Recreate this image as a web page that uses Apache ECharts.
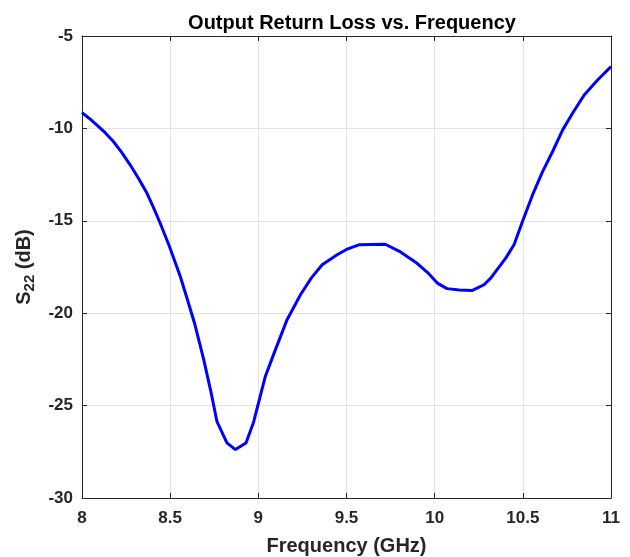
<!DOCTYPE html>
<html><head><meta charset="utf-8">
<script src="https://cdn.jsdelivr.net/npm/echarts@6/dist/echarts.min.js"></script>
<style>html,body{margin:0;padding:0;background:#fff}#c{width:630px;height:557px}</style>
</head><body><div id="c"></div>
<script>
const freq = [8.00,8.04,8.083,8.13,8.178,8.225,8.273,8.32,8.368,8.405,8.443,8.496,8.557,8.595,8.64,8.69,8.73,8.765,8.822,8.87,8.93,8.973,9.04,9.097,9.163,9.239,9.30,9.362,9.447,9.50,9.57,9.72,9.80,9.90,9.96,10.015,10.07,10.14,10.214,10.28,10.318,10.403,10.45,10.498,10.555,10.612,10.669,10.726,10.782,10.848,10.924,11.00];
const s22 = [-9.15,-9.45,-9.81,-10.22,-10.71,-11.3,-11.97,-12.7,-13.5,-14.27,-15.12,-16.39,-18.0,-19.18,-20.6,-22.5,-24.2,-25.85,-27.02,-27.38,-27.02,-25.9,-23.41,-21.97,-20.35,-19.0,-18.1,-17.38,-16.84,-16.55,-16.3,-16.27,-16.65,-17.3,-17.8,-18.37,-18.67,-18.75,-18.77,-18.46,-18.1,-17.02,-16.3,-15.04,-13.6,-12.34,-11.25,-10.08,-9.18,-8.19,-7.38,-6.66];
const xTicks = [8, 8.5, 9, 9.5, 10, 10.5, 11];
const yTicks = [-30, -25, -20, -15, -10, -5];
const title = 'Output Return Loss vs. Frequency';
const xName = 'Frequency (GHz)';

const FONT = '"Liberation Sans", Arial, sans-serif';
const axisCol = '#262626';
const chart = echarts.init(document.getElementById('c'));
const baseAxis = (extra) => Object.assign({
  axisLine: {show: true, lineStyle: {color: axisCol, width: 1}},
  axisTick: {show: true, inside: true, length: 5, lineStyle: {color: axisCol}},
  splitLine: {show: false},
  axisLabel: {show: false}
}, extra);
chart.setOption({
  animation: false,
  title: {text: title, left: 347, top: 8, textAlign: 'center',
    textStyle: {fontFamily: FONT, fontSize: 20, fontWeight: 'bold', color: '#000'}},
  grid: {left: 82, right: 19, top: 36, bottom: 59, outerBoundsMode: 'none', containLabel: false},
  xAxis: [
    {type: 'value', min: xTicks[0], max: xTicks[xTicks.length-1], interval: 0.5,
     position: 'bottom',
     axisLine: {show: true, onZero: false, lineStyle: {color: axisCol}},
     axisTick: {show: true, inside: true, length: 5, lineStyle: {color: axisCol}},
     splitLine: {show: true, lineStyle: {color: '#e3e3e3', width: 1}},
     axisLabel: {color: '#262626', fontFamily: FONT, fontSize: 17, fontWeight: 'bold', margin: 12},
     name: xName, nameLocation: 'middle', nameGap: 38,
     nameTextStyle: {color: '#262626', fontFamily: FONT, fontSize: 20, fontWeight: 'bold'}},
    baseAxis({type: 'value', min: 8, max: 11, interval: 0.5, position: 'top'})
  ],
  yAxis: [
    {type: 'value', min: yTicks[0], max: yTicks[yTicks.length-1], interval: 5,
     position: 'left',
     axisLine: {show: true, onZero: false, lineStyle: {color: axisCol}},
     axisTick: {show: true, inside: true, length: 5, lineStyle: {color: axisCol}},
     splitLine: {show: true, lineStyle: {color: '#e3e3e3', width: 1}},
     axisLabel: {color: '#262626', fontFamily: FONT, fontSize: 17, fontWeight: 'bold', margin: 9},
     name: '{m|S}{s|22}{m| (dB)}', nameLocation: 'middle', nameGap: 44, nameRotate: 90,
     nameTextStyle: {color: '#262626', fontFamily: FONT, fontSize: 20, fontWeight: 'bold',
       rich: {
         m: {fontFamily: FONT, fontSize: 20, fontWeight: 'bold', color: '#262626', verticalAlign: 'middle'},
         s: {fontFamily: FONT, fontSize: 15, fontWeight: 'bold', color: '#262626', verticalAlign: 'bottom', padding: [12, 0, 0, 0]}
       }}},
    baseAxis({type: 'value', min: -30, max: -5, interval: 5, position: 'right'})
  ],
  series: [{
    type: 'line', xAxisIndex: 0, yAxisIndex: 0,
    data: freq.map((f, i) => [f, s22[i]]),
    showSymbol: false, smooth: false,
    lineStyle: {color: '#0000ff', width: 3}
  }]
});
</script></body></html>
